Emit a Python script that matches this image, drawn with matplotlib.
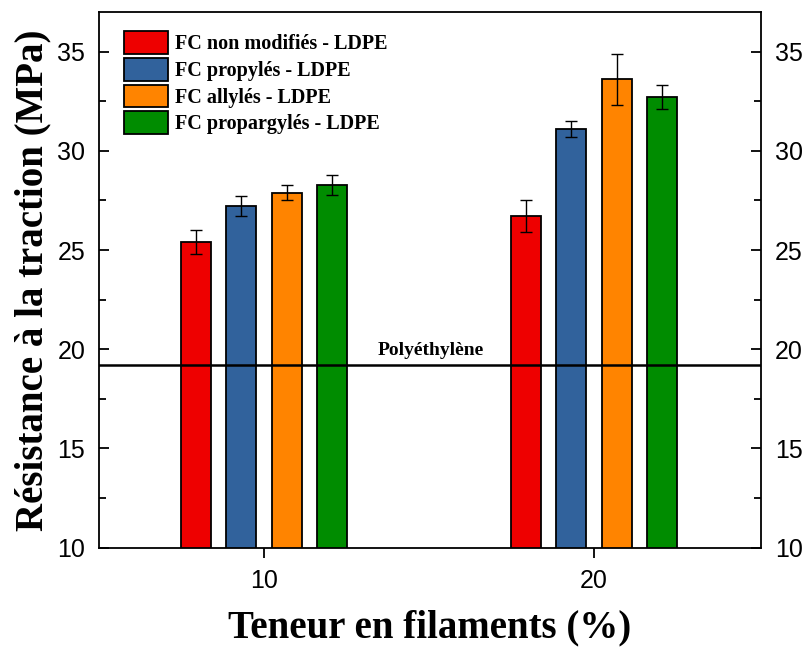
import numpy as np
import matplotlib
matplotlib.use("Agg")
import matplotlib.pyplot as plt
from matplotlib.ticker import MultipleLocator

# data
groups = ["10", "20"]
series = ["FC non modifiés - LDPE", "FC propylés - LDPE",
          "FC allylés - LDPE", "FC propargylés - LDPE"]
values = [[25.4, 26.7],
          [27.2, 31.1],
          [27.9, 33.6],
          [28.3, 32.7]]
errors = [[0.6, 0.8],
          [0.5, 0.4],
          [0.4, 1.3],
          [0.5, 0.6]]
colors = ["#EE0000", "#31629C", "#FF8400", "#008C00"]
pe_value = 19.2

serif = ["Liberation Serif", "DejaVu Serif"]
sans = ["Liberation Sans", "DejaVu Sans"]

fig = plt.figure(figsize=(8.07, 6.47), dpi=100)
ax = fig.add_axes([0.1227, 0.1535, 0.943 - 0.1227, 0.9815 - 0.1535])

x = np.arange(len(groups))
step = 0.137
width = 0.091
for i, (name, vals, errs, c) in enumerate(zip(series, values, errors, colors)):
    xi = x + (i - 1.5) * step
    ax.bar(xi, vals, width, color=c, edgecolor="black", linewidth=1.3,
           label=name, zorder=2)
    ax.errorbar(xi, vals, yerr=errs, fmt="none", ecolor="black",
                elinewidth=1.0, capsize=4, capthick=1.0, zorder=3)

ax.axhline(pe_value, color="black", linewidth=1.8, zorder=4)
ax.text(0.506, pe_value + 0.3, "Polyéthylène", ha="center", va="bottom",
        fontsize=14, fontweight="bold", family=serif)

ax.set_xlim(-0.5, 1.506)
ax.set_ylim(10, 37)
ax.set_xticks(x)
ax.set_xticklabels(groups, family=sans, fontsize=18)
ax.yaxis.set_major_locator(MultipleLocator(5))
ax.yaxis.set_minor_locator(MultipleLocator(2.5))
ax.set_yticks([10, 15, 20, 25, 30, 35])

ax.tick_params(axis="y", which="both", direction="in", left=True, right=True,
               labelleft=True, labelright=True, labelsize=18, pad=10, width=1.3)
ax.tick_params(axis="y", which="major", length=7)
ax.tick_params(axis="y", which="minor", length=5)
ax.tick_params(axis="x", direction="out", length=7, width=1.3, pad=8)
for lab in ax.get_yticklabels():
    lab.set_family(sans)
for s in ax.spines.values():
    s.set_linewidth(1.3)

ax.set_ylabel("Résistance à la traction (MPa)", fontsize=28,
              fontweight="bold", family=serif, labelpad=4)
ax.set_xlabel("Teneur en filaments (%)", fontsize=28, fontweight="bold",
              family=serif, labelpad=12)

ax.legend(loc="upper left", bbox_to_anchor=(0.038, 0.964), frameon=False,
          prop={"family": serif, "weight": "bold", "size": 14.5},
          handlelength=2.2, handleheight=1.35, labelspacing=0.18,
          handletextpad=0.3, borderpad=0, borderaxespad=0)

fig.savefig("out.png", dpi=100)
